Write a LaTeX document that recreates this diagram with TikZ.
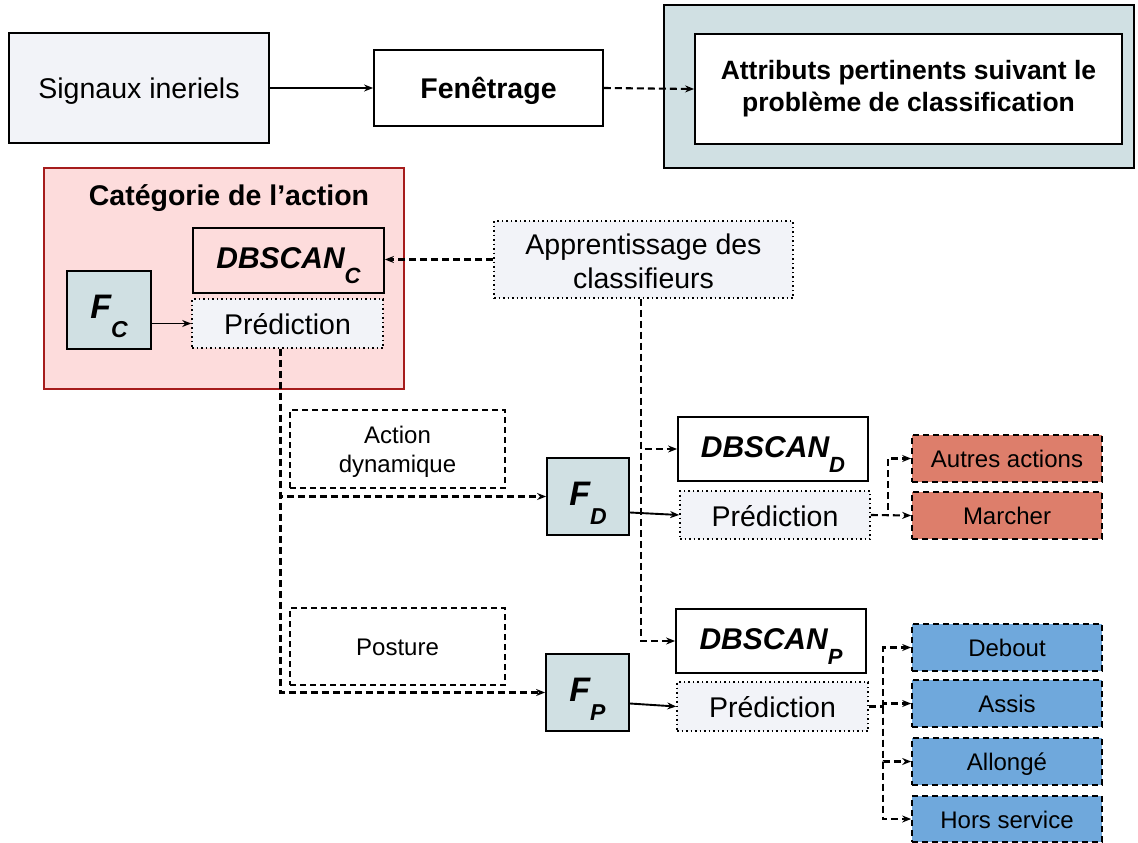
\documentclass[tikz,border=0pt]{standalone}
\usepackage{fontspec}
\setmainfont{Liberation Sans}
\usetikzlibrary{arrows.meta,calc}
\definecolor{lav}{HTML}{F2F3F8}
\definecolor{tealbg}{HTML}{D0E0E3}
\definecolor{pinkbg}{HTML}{FDDCDC}
\definecolor{redbd}{HTML}{A61C1C}
\definecolor{salmonbox}{HTML}{DD7E6B}
\definecolor{bluebox}{HTML}{6FA8DC}
\newcommand{\dbsc}[1]{{\fontsize{30}{34}\selectfont\bfseries\itshape DBSCAN\raisebox{-15pt}{\fontsize{22}{22}\selectfont #1}}}
\newcommand{\fsb}[1]{{\fontsize{34}{36}\selectfont\bfseries\itshape F\raisebox{-19pt}{\fontsize{23}{23}\selectfont #1}}}
\begin{document}
\begin{tikzpicture}[x=1pt,y=-1pt,
  sz/.style 2 args={minimum width=#1pt, minimum height=#2pt},
  base/.style={draw=black, line width=1.8pt, inner sep=2pt, align=center, rectangle},
  fbig/.style={font=\fontsize{28.5}{34}\selectfont},
  fbold/.style={font=\fontsize{28.5}{34}\selectfont\bfseries},
  fsmall/.style={font=\fontsize{24}{29}\selectfont},
  bigline/.style={text height=22pt, text depth=0pt},
  smallline/.style={text height=18pt, text depth=0pt},
  dbstyle/.style={text height=21.6pt, text depth=5.6pt},
  fstyle/.style={text height=24.5pt, text depth=7.5pt},
  dotbox/.style={base, line width=1.6pt, dash pattern=on 1.5pt off 3pt, fill=lav},
  dashbox/.style={base, line width=1.7pt, dash pattern=on 6pt off 4pt},
  conn/.style={line width=1.9pt, -{Stealth[length=9pt,width=7pt]}},
  dconn/.style={conn, line width=2.1pt, dash pattern=on 7pt off 4pt},
]
\useasboundingbox (0,0) rectangle (1138,843);

% top row
\node[base, fill=lav, sz={260}{110}, fbig, bigline] (sig) at (139,88) {Signaux ineriels};
\node[base, fill=white, sz={229}{76}, fbold, bigline] (fen) at (488.5,88) {Fenêtrage};
\node[base, fill=tealbg, sz={470}{163}] (outer) at (899,86.5) {};
\node[base, fill=white, sz={427}{110}, font=\fontsize{26.5}{32}\selectfont\bfseries] (attr) at (908.5,89) {Attributs pertinents suivant le\\problème de classification};
\draw[conn] (sig.east) -- (fen.west);
\draw[dconn] (fen.east) -- (attr.west);

% category block
\node[base, draw=redbd, fill=pinkbg, sz={360}{221}] (cat) at (224,278.5) {};
\node[fbold, bigline, inner sep=0pt] (cattitle) at (229,194.5) {Catégorie de l’action};
\node[base, sz={191}{65}, dbstyle] (dbc) at (288.5,260.5) {\dbsc{C}};
\node[dotbox, sz={191}{49}, fbig, bigline] (predc) at (287.5,323.5) {Prédiction};
\node[base, fill=tealbg, sz={84}{78}, fstyle] (fc) at (109,310) {\fsb{C}};
\draw[conn] (predc.west -| fc.east) -- (predc.west);

% learning
\node[dotbox, sz={299}{77}] (app) at (643.5,259.5) {};
\node[fbig, align=center, inner sep=0pt] (apptext) at ([yshift=-2pt]app.center) {Apprentissage des\\classifieurs};
\draw[dconn] (app.west) -- (app.west -| dbc.east);

% category labels
\node[dashbox, sz={215}{78}] (actdyn) at (397.5,449) {};
\node[fsmall, align=center, inner sep=0pt] (actdyntext) at ([yshift=-3pt]actdyn.center) {Action\\dynamique};
\node[dashbox, sz={215}{77}, fsmall, smallline] (post) at (397.5,646.5) {Posture};

% feature boxes
\node[base, fill=tealbg, sz={82}{77}, fstyle] (fd) at (588,496.5) {\fsb{D}};
\node[base, fill=tealbg, sz={83}{77}, fstyle] (fp) at (587.5,692.5) {\fsb{P}};

% dynamic classifier
\node[base, fill=white, sz={190}{64}, dbstyle] (dbd) at (773,449) {\dbsc{D}};
\node[dotbox, sz={190}{48}, fbig, bigline] (predd) at (775,515) {Prédiction};
\node[dashbox, fill=salmonbox, sz={190}{47}, fsmall, smallline] (autres) at (1007,458.5) {Autres actions};
\node[dashbox, fill=salmonbox, sz={190}{47}, fsmall, smallline] (marcher) at (1007,515.5) {Marcher};

% posture classifier
\node[base, fill=white, sz={190}{64}, dbstyle] (dbp) at (771,641) {\dbsc{P}};
\node[dotbox, sz={191}{49}, fbig, bigline] (predp) at (772.5,706.5) {Prédiction};
\node[dashbox, fill=bluebox, sz={190}{47}, fsmall, smallline] (debout) at (1007,647.5) {Debout};
\node[dashbox, fill=bluebox, sz={190}{47}, fsmall, smallline] (assis) at (1007,703.5) {Assis};
\node[dashbox, fill=bluebox, sz={190}{47}, fsmall, smallline] (allonge) at (1007,761.5) {Allongé};
\node[dashbox, fill=bluebox, sz={190}{46}, fsmall, smallline] (hors) at (1007,819) {Hors service};

% connectors
\coordinate (pcs) at ($(predc.south)+(-7,0)$);
\draw[dconn] (pcs) |- (fd.west);
\draw[dconn] (pcs) |- (fp.west);
\coordinate (aps) at ($(app.south)+(-2.5,0)$);
\draw[dconn] (aps) |- (dbd.west);
\draw[dconn] (aps) |- (dbp.west);
\draw[conn] ([yshift=-16pt]fd.east) -- (predd.west);
\draw[conn] ([yshift=-11pt]fp.east) -- (predp.west);
\draw[dconn] (predd.east) -- ++(17,0) |- (autres.west);
\draw[dconn] (predd.east) -- (marcher.west);
\coordinate (ppj) at ($(predp.east)+(14,0)$);
\draw[dash pattern=on 7pt off 4pt, line width=2.1pt] (predp.east) -- (ppj);
\draw[dconn] (ppj) |- (debout.west);
\draw[dconn] (ppj) |- (assis.west);
\draw[dconn] (ppj) |- (allonge.west);
\draw[dconn] (ppj) |- (hors.west);
\end{tikzpicture}
\end{document}
